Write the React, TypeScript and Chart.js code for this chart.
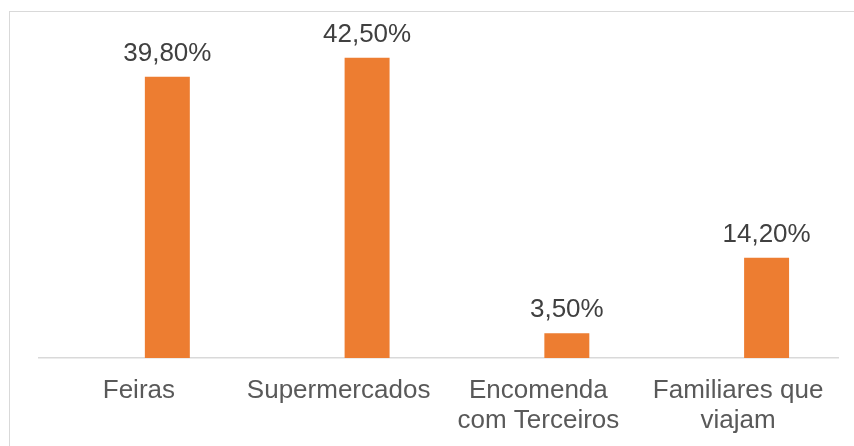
import React, { useEffect, useRef } from "react";
import { Chart, registerables } from "chart.js";

Chart.register(...registerables);

const categories: (string | string[])[] = [
  "Feiras",
  "Supermercados",
  ["Encomenda", "com Terceiros"],
  ["Familiares que", "viajam"],
];
const emptySeries: (number | null)[] = [null, null, null, null];
const values: number[] = [39.8, 42.5, 3.5, 14.2];
const yMax = 45;

const FONT = "'Liberation Sans', Arial, sans-serif";

const frame = {
  id: "frame",
  beforeDraw(chart: any) {
    const ctx = chart.ctx;
    ctx.save();
    ctx.fillStyle = "#ffffff";
    ctx.fillRect(0, 0, chart.width, chart.height);
    ctx.strokeStyle = "#d9d9d9";
    ctx.lineWidth = 1;
    ctx.strokeRect(9.5, 11.5, chart.width + 20, chart.height + 20);
    ctx.restore();
  },
};

const labels = {
  id: "valueLabels",
  afterDatasetsDraw(chart: any) {
    const ctx = chart.ctx;
    const meta = chart.getDatasetMeta(1);
    ctx.save();
    ctx.font = `26px ${FONT}`;
    ctx.fillStyle = "#404040";
    ctx.textAlign = "center";
    ctx.textBaseline = "middle";
    meta.data.forEach((el: any, i: number) => {
      const v = values[i];
      const txt = v.toFixed(2).replace(".", ",") + "%";
      ctx.fillText(txt, el.x, el.y - 23);
    });
    ctx.restore();
  },
};

export default function App() {
  const ref = useRef<HTMLCanvasElement>(null);
  useEffect(() => {
    if (!ref.current) return;
    const chart = new Chart(ref.current, {
      type: "bar",
      data: {
        labels: categories,
        datasets: [
          { label: "vazio", data: emptySeries, backgroundColor: "#ED7D31" },
          { label: "Série", data: values, backgroundColor: "#ED7D31" },
        ],
      },
      options: {
        animation: false,
        responsive: false,
        layout: { padding: { left: 39, right: 16, top: 40, bottom: 0 } },
        plugins: { legend: { display: false }, tooltip: { enabled: false } },
        datasets: { bar: { categoryPercentage: 0.57, barPercentage: 0.79 } },
        scales: {
          x: {
            grid: { display: false, drawTicks: false },
            border: { display: true, color: "#d9d9d9", width: 1.5 },
            ticks: {
              color: "#595959",
              font: { family: FONT, size: 26, lineHeight: 1.15 },
              padding: 18,
              maxRotation: 0,
              autoSkip: false,
            },
            afterFit: (s: any) => {
              s.height = 88;
            },
          },
          y: { display: false, min: 0, max: yMax },
        },
      } as any,
      plugins: [frame, labels],
    });
    return () => chart.destroy();
  }, []);
  return (
    <div style={{ position: "fixed", left: 0, top: 0, width: 854, height: 446 }}>
      <canvas ref={ref} width={854} height={446} style={{ display: "block" }} />
    </div>
  );
}
